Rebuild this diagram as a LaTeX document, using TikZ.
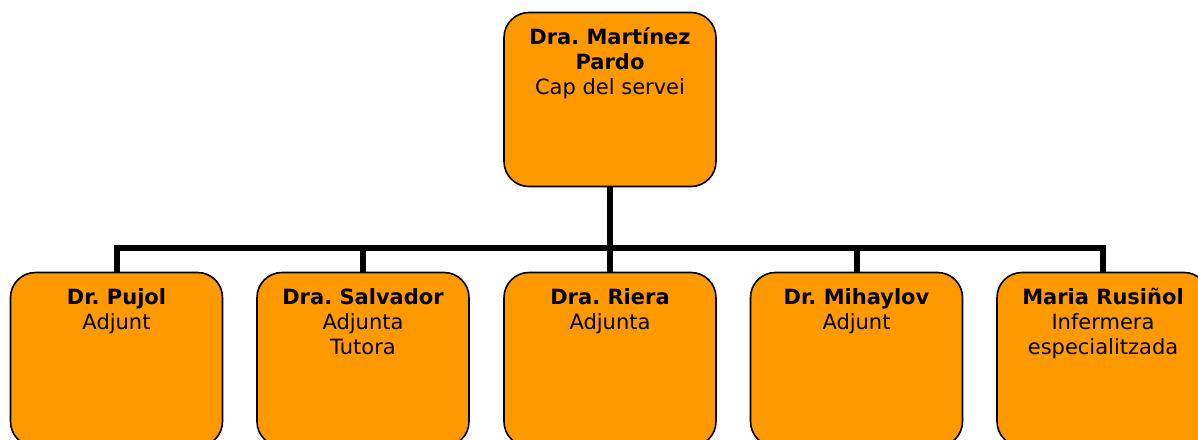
\documentclass[tikz,border=0pt]{standalone}
\usepackage{fontspec}
\setmainfont{DejaVu Sans}
\frenchspacing
\definecolor{boxorange}{RGB}{255,153,0}
\begin{document}
\begin{tikzpicture}[x=1pt,y=-1pt,
  orgbox/.style={draw=black,line width=1.6pt,fill=boxorange,rounded corners=25pt,
    minimum width=212pt,minimum height=174pt,inner sep=0pt,outer sep=0pt},
  orgtext/.style={anchor=north,align=center,inner sep=0pt,yshift=-12pt,
    font=\fontsize{21}{25}\selectfont},
  link/.style={line width=6pt,black}]
\clip (0,0) rectangle (1198,439);
\useasboundingbox (0,0) rectangle (1198,439);
\node[orgbox,anchor=north] (top) at (610,12.5) {};
\node[orgbox,anchor=north] (b1) at (116.5,272.5) {};
\node[orgbox,anchor=north] (b2) at (363,272.5) {};
\node[orgbox,anchor=north] (b3) at (610,272.5) {};
\node[orgbox,anchor=north] (b4) at (856.5,272.5) {};
\node[orgbox,anchor=north] (b5) at (1103,272.5) {};
\coordinate (bar) at (610,248);
\draw[link] (top.south) -- (top.south |- bar);
\draw[link] (b1.north) -- (b1.north |- bar) -- (b5.north |- bar) -- (b5.north);
\draw[link] (b2.north |- bar) -- (b2.north);
\draw[link] (b3.north |- bar) -- (b3.north);
\draw[link] (b4.north |- bar) -- (b4.north);
\node[orgtext] (ttop) at (top.north) {\rule{0pt}{20pt}\textbf{Dra. Martínez}\\\textbf{Pardo}\\Cap del servei};
\node[orgtext] (t1) at (b1.north) {\rule{0pt}{20pt}\textbf{Dr. Pujol}\\Adjunt};
\node[orgtext] (t2) at (b2.north) {\rule{0pt}{20pt}\textbf{Dra. Salvador}\\Adjunta\\Tutora};
\node[orgtext] (t3) at (b3.north) {\rule{0pt}{20pt}\textbf{Dra. Riera}\\Adjunta};
\node[orgtext] (t4) at (b4.north) {\rule{0pt}{20pt}\textbf{Dr. Mihaylov}\\Adjunt};
\node[orgtext] (t5) at (b5.north) {\rule{0pt}{20pt}\textbf{Maria Rusiñol}\\Infermera\\especialitzada};
\end{tikzpicture}
\end{document}
